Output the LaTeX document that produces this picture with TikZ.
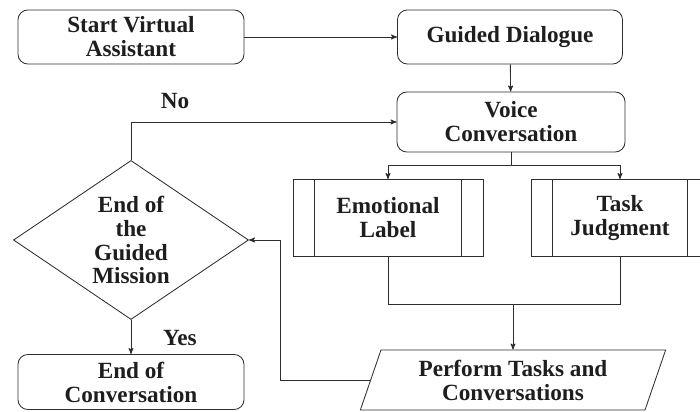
\documentclass[tikz,border=0pt]{standalone}
\usepackage{fontspec}
\setmainfont{Liberation Serif}
\usetikzlibrary{arrows,shapes.geometric}
\definecolor{line_gray}{RGB}{45,45,45}
\definecolor{text_gray}{RGB}{30,30,30}

\begin{document}
\begin{tikzpicture}[->,semithick,>=stealth',x=0.025cm,y=-0.025cm]
    \tikzstyle{every node}=[text=text_gray, align=center, inner sep=0pt, font=\fontsize{16.5}{17}\selectfont\bfseries]
    \tikzstyle{box}=[draw=line_gray, rectangle, rounded corners=7pt]
    \tikzstyle{proc}=[draw=line_gray, rectangle, minimum height=1.925cm]
    \tikzstyle{decision}=[draw=line_gray, diamond, aspect=1.5, minimum width=5.875cm, minimum height=3.975cm]
    \tikzstyle{io}=[draw=line_gray, trapezium, trapezium left angle=71, trapezium right angle=109, inner xsep=-0.13cm, minimum height=1.5cm]

    \useasboundingbox (0,0) rectangle (700,412);

    \node[box, minimum width=5.65cm, minimum height=1.35cm] (start) at (131,37) {Start Virtual\\Assistant};
    \node[box, minimum width=5.625cm, minimum height=1.35cm] (guided) at (510,37) {Guided Dialogue};
    \node[box, minimum width=5.7cm, minimum height=1.5cm] (voice) at (511,122) {Voice\\Conversation};
    \node[proc, minimum width=4.75cm] (emo) at (388,218) {Emotional\\Label};
    \node[proc, minimum width=4.45cm] (task) at (620,218) {Task\\Judgment};
    \node[io] (perform) at (513,380) {Perform Tasks and\\Conversations};
    \node[decision] (mission) at (131,240) {End of\\the\\Guided\\Mission};
    \node[box, minimum width=5.65cm, minimum height=1.375cm] (finish) at (131,382) {End of\\Conversation};
    \node (no) at (175,101) {No};
    \node (yes) at (180,338) {Yes};

    % side bars of the process boxes
    \draw[-, line_gray] ([xshift=0.55cm]emo.north west) -- ([xshift=0.55cm]emo.south west);
    \draw[-, line_gray] ([xshift=-0.55cm]emo.north east) -- ([xshift=-0.55cm]emo.south east);
    \draw[-, line_gray] ([xshift=0.55cm]task.north west) -- ([xshift=0.55cm]task.south west);
    \draw[-, line_gray] ([xshift=-0.55cm]task.north east) -- ([xshift=-0.55cm]task.south east);

    \coordinate (split) at (511,165);
    \coordinate (join) at (513,304);
    \coordinate (back) at (280,240);

    \path[line_gray]
     (start) edge (guided)
     (guided) edge (voice)
     (mission) edge (finish)
     ;
    \draw[-, line_gray] (voice.south) -- (split);
    \draw[line_gray] (split) -| (emo.north);
    \draw[line_gray] (split) -| (task.north);
    \draw[-, line_gray] (emo.south) |- (join);
    \draw[-, line_gray] (task.south) |- (join);
    \draw[line_gray] (join) -- (join |- perform.north);
    \draw[line_gray] (perform.west) -| (back) -- (mission.east);
    \draw[line_gray] (mission.north) |- (voice.west);
\end{tikzpicture}
\end{document}
